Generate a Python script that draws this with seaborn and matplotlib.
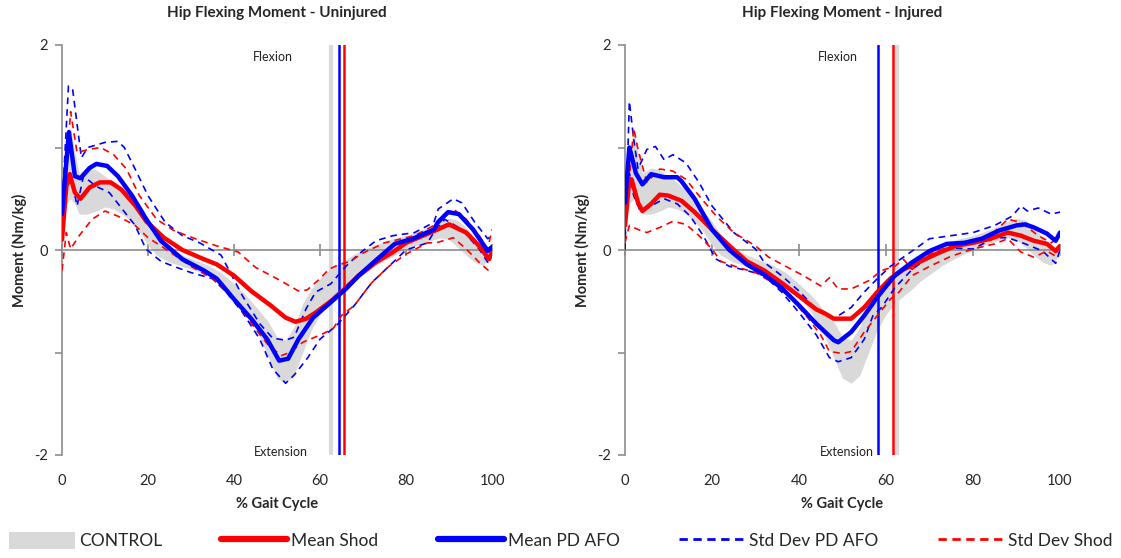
import numpy as np
import pandas as pd
import matplotlib
matplotlib.use("Agg")
import matplotlib.pyplot as plt
import seaborn as sns
from matplotlib.lines import Line2D
from matplotlib.patches import Patch

sns.set_theme(style="white")
plt.rcParams['font.family'] = ['Lato', 'DejaVu Sans']

# ---------------- DATA ----------------
# Control band (same for both panels)
ctrl_x = [0, 1, 2, 3, 4, 6, 8, 10, 12, 14, 16, 18, 20, 22, 25, 28, 31, 34, 37, 40, 43, 46, 48, 50, 52,
          54, 56, 58, 60, 62, 64, 66, 68, 70, 73, 76, 80, 84, 88, 90, 92, 94, 96, 98, 100]
ctrl_hi = [0.4, 0.9, 1.2, 0.95, 0.75, 0.8, 0.78, 0.72, 0.66, 0.58, 0.48, 0.38, 0.28, 0.15, 0.03, -0.05,
           -0.1, -0.15, -0.22, -0.33, -0.45, -0.6, -0.7, -0.85, -0.88, -0.75, -0.52, -0.38, -0.28, -0.2,
           -0.14, -0.09, -0.04, 0.0, 0.05, 0.1, 0.14, 0.2, 0.28, 0.31, 0.29, 0.22, 0.12, 0.02, 0.0]
ctrl_lo = [0.2, 0.45, 0.5, 0.45, 0.35, 0.35, 0.38, 0.42, 0.4, 0.35, 0.28, 0.18, 0.05, -0.05, -0.12, -0.16,
           -0.2, -0.25, -0.33, -0.45, -0.62, -0.85, -1.05, -1.25, -1.3, -1.22, -1.0, -0.78, -0.63, -0.52,
           -0.45, -0.38, -0.3, -0.24, -0.15, -0.08, 0.0, 0.07, 0.12, 0.1, 0.03, -0.05, -0.12, -0.15, -0.05]

# Uninjured panel
u_blue_x = [0, 1.6, 3, 4.3, 6.4, 8, 10.5, 13, 16.3, 19.6, 23, 28, 33, 36, 40, 44, 47.7, 50.5, 52.6, 55,
            58.4, 62.5, 66, 69, 73, 77.4, 81.6, 86.5, 87.4, 89.8, 92.3, 95.6, 99, 100]
u_blue_y = [0.35, 1.15, 0.72, 0.70, 0.80, 0.84, 0.82, 0.72, 0.53, 0.30, 0.09, -0.09, -0.2, -0.28, -0.48,
            -0.67, -0.87, -1.08, -1.06, -0.87, -0.66, -0.51, -0.38, -0.25, -0.10, 0.06, 0.11, 0.2, 0.27,
            0.37, 0.35, 0.2, -0.01, 0.03]
u_red_x = [0, 1, 1.8, 3, 4.3, 6.4, 8.8, 11.3, 13.8, 17.1, 19.6, 23.7, 28, 33, 36, 40, 44, 48.5, 52, 54.3,
           56.8, 59, 62.5, 66, 69, 73, 77, 80, 85.7, 90, 94, 97, 99.3, 100]
u_red_y = [0.1, 0.62, 0.74, 0.56, 0.5, 0.61, 0.66, 0.66, 0.59, 0.43, 0.28, 0.12, 0.0, -0.09, -0.14, -0.25,
           -0.40, -0.54, -0.66, -0.70, -0.67, -0.61, -0.5, -0.37, -0.25, -0.12, -0.02, 0.07, 0.17, 0.25,
           0.17, 0.04, -0.09, -0.02]
u_bsd_hi_x = [0, 1.5, 2.5, 4.5, 6, 10, 13, 14.5, 17, 20, 24, 28, 32, 37, 42, 46, 49, 52, 54, 56.8, 59,
              62.5, 66, 69, 73, 77, 82, 86.5, 87.5, 91, 93, 96, 99, 100]
u_bsd_hi_y = [0.4, 1.6, 1.56, 0.9, 1.0, 1.05, 1.06, 1.0, 0.79, 0.53, 0.27, 0.14, 0.07, -0.05, -0.45, -0.72,
              -0.86, -0.88, -0.85, -0.57, -0.41, -0.33, -0.16, -0.04, 0.09, 0.14, 0.17, 0.27, 0.4, 0.5,
              0.46, 0.27, 0.11, 0.14]
u_bsd_lo_x = [0, 2, 3.5, 5, 8, 11, 14, 17, 19.5, 23, 26, 30, 35, 38, 42, 46, 49, 52, 54, 57, 60, 64, 68,
              72, 76, 80, 85, 86, 89, 93, 97, 99, 100]
u_bsd_lo_y = [0.3, 0.75, 0.43, 0.72, 0.62, 0.56, 0.4, 0.24, 0.01, -0.11, -0.16, -0.22, -0.28, -0.40, -0.61,
              -0.87, -1.16, -1.30, -1.22, -1.06, -0.87, -0.73, -0.54, -0.32, -0.16, 0.0, 0.07, 0.14, 0.3,
              0.2, 0.01, -0.12, -0.05]
u_rsd_hi_x = [0, 2, 3.5, 6, 9, 12, 15, 18, 22, 26, 31, 36, 41, 45, 50, 55, 57, 60, 62, 64, 67, 70, 75,
              82, 87, 91, 94, 97, 99, 100]
u_rsd_hi_y = [0.2, 1.35, 0.95, 0.98, 1.0, 0.93, 0.79, 0.53, 0.30, 0.19, 0.11, 0.04, -0.02, -0.17, -0.28,
              -0.40, -0.39, -0.28, -0.19, -0.15, -0.11, -0.03, 0.07, 0.14, 0.25, 0.4, 0.3, 0.14, 0.01, 0.2]
u_rsd_lo_x = [0, 1, 2, 4, 7, 10, 13, 17, 20, 23, 30, 35, 40, 45, 48, 51, 53, 56, 60, 63, 65, 68, 72, 76,
              80, 85, 87, 91, 94, 97, 100]
u_rsd_lo_y = [-0.2, 0.17, 0.01, 0.14, 0.3, 0.38, 0.33, 0.24, 0.12, 0.04, -0.16, -0.28, -0.48, -0.77, -0.93,
              -1.03, -1.0, -0.9, -0.83, -0.77, -0.64, -0.54, -0.32, -0.16, -0.04, 0.07, 0.07, 0.12, 0.01,
              -0.12, -0.23]

# Injured panel
i_blue_x = [0, 1, 1.5, 2.5, 4, 6, 9, 12, 13, 16, 20, 24, 28, 32, 36, 40, 44, 48, 49, 52, 55, 58, 62, 66,
            70, 74, 78, 82, 86, 90, 92, 94, 97, 99, 100]
i_blue_y = [0.46, 1.0, 0.92, 0.75, 0.64, 0.74, 0.71, 0.71, 0.67, 0.5, 0.2, 0.0, -0.14, -0.24, -0.37, -0.54,
            -0.72, -0.88, -0.9, -0.8, -0.64, -0.46, -0.25, -0.12, -0.01, 0.06, 0.07, 0.11, 0.19, 0.24,
            0.25, 0.22, 0.16, 0.09, 0.17]
i_red_x = [0, 1, 1.5, 3, 4, 6, 8, 10, 13, 16, 20, 24, 28, 32, 36, 40, 44, 46, 48, 52, 55, 58, 61, 64, 68,
           72, 76, 80, 84, 88, 91, 94, 97, 99, 100]
i_red_y = [0.24, 0.69, 0.69, 0.46, 0.38, 0.45, 0.54, 0.53, 0.48, 0.37, 0.2, 0.04, -0.11, -0.2, -0.32,
           -0.45, -0.58, -0.62, -0.67, -0.67, -0.56, -0.41, -0.28, -0.19, -0.11, -0.03, 0.04, 0.07, 0.11,
           0.17, 0.14, 0.09, 0.06, -0.01, 0.04]
i_bsd_hi_x = [0, 1, 2, 3, 5, 7, 9, 11, 14, 17, 20, 25, 30, 32, 36, 40, 44, 48, 52, 55, 58, 61, 65, 70,
              75, 80, 85, 89, 91, 92.5, 95, 98, 100]
i_bsd_hi_y = [0.0, 1.45, 1.08, 0.79, 0.98, 1.01, 0.88, 0.93, 0.85, 0.66, 0.43, 0.17, 0.01, -0.12, -0.25,
              -0.40, -0.58, -0.67, -0.56, -0.41, -0.28, -0.16, -0.04, 0.11, 0.14, 0.17, 0.24, 0.33, 0.43,
              0.38, 0.41, 0.35, 0.37]
i_bsd_lo_x = [0, 1, 2, 3.5, 6, 9, 12, 15, 18, 20, 21, 24, 28, 32, 36, 40, 44, 47, 49, 52, 55, 57, 59, 62,
              66, 70, 75, 80, 85, 88, 92, 96, 99, 100]
i_bsd_lo_y = [0.15, 0.75, 0.53, 0.38, 0.43, 0.5, 0.45, 0.33, 0.14, -0.02, -0.09, -0.16, -0.2, -0.25, -0.41,
              -0.61, -0.83, -1.05, -1.09, -1.05, -0.87, -0.64, -0.56, -0.37, -0.19, -0.06, 0.02, 0.01,
              0.12, 0.12, 0.06, -0.01, -0.13, 0.0]
i_rsd_hi_x = [0, 2, 3, 5, 8, 11, 14, 17, 21, 25, 30, 33, 37, 41, 45, 47, 49, 52, 56, 59, 62, 64, 66, 70,
              75, 80, 84, 88, 91, 95, 98, 100]
i_rsd_hi_y = [0.2, 1.19, 0.98, 0.66, 0.79, 0.77, 0.69, 0.53, 0.33, 0.17, 0.04, -0.07, -0.16, -0.25, -0.35,
              -0.27, -0.38, -0.38, -0.3, -0.2, -0.16, -0.09, -0.19, -0.04, 0.04, 0.06, 0.14, 0.3, 0.27,
              0.14, 0.07, 0.14]
i_rsd_lo_x = [0, 1, 3, 5, 8, 11, 14, 17, 20, 22, 26, 30, 34, 38, 42, 45, 47, 50, 52, 55, 58, 61, 63, 66,
              70, 75, 80, 85, 88, 91, 94, 97, 99, 100]
i_rsd_lo_y = [0.07, 0.24, 0.2, 0.17, 0.22, 0.28, 0.25, 0.14, 0.01, -0.11, -0.17, -0.22, -0.32, -0.46,
              -0.66, -0.83, -0.99, -1.01, -0.99, -0.8, -0.64, -0.48, -0.41, -0.25, -0.16, -0.06, 0.01,
              0.06, 0.11, -0.02, -0.07, -0.01, -0.06, 0.07]

titles = ["Hip Flexing Moment - Uninjured", "Hip Flexing Moment - Injured"]
toe_off = [{"ctrl": 62.5, "afo": 64.5, "shod": 65.5}, {"ctrl": 62.5, "afo": 58.2, "shod": 61.7}]
legend_labels = ["CONTROL", "Mean Shod", "Mean PD AFO", "Std Dev PD AFO", "Std Dev Shod"]
x_ticks = [0, 20, 40, 60, 80, 100]
y_ticks = [-2, 0, 2]

RED = "#FF0000"
BLUE = "#0000FF"
GRAY = "#D9D9D9"
AXC = "#8C8C8C"

panels = [
    dict(blue=(u_blue_x, u_blue_y), red=(u_red_x, u_red_y), bhi=(u_bsd_hi_x, u_bsd_hi_y),
         blo=(u_bsd_lo_x, u_bsd_lo_y), rhi=(u_rsd_hi_x, u_rsd_hi_y), rlo=(u_rsd_lo_x, u_rsd_lo_y)),
    dict(blue=(i_blue_x, i_blue_y), red=(i_red_x, i_red_y), bhi=(i_bsd_hi_x, i_bsd_hi_y),
         blo=(i_bsd_lo_x, i_bsd_lo_y), rhi=(i_rsd_hi_x, i_rsd_hi_y), rlo=(i_rsd_lo_x, i_rsd_lo_y)),
]

W, H = 1121, 558
fig = plt.figure(figsize=(W / 100, H / 100), dpi=100)
fig.patch.set_facecolor("white")
rects = [(62, 492), (625, 1060)]
ytop, ybot = 45, 455

for k, (p, (x0, x1)) in enumerate(zip(panels, rects)):
    ax = fig.add_axes([x0 / W, (H - ybot) / H, (x1 - x0) / W, (ybot - ytop) / H])
    ax.set_facecolor("white")
    ax.fill_between(ctrl_x, ctrl_lo, ctrl_hi, color=GRAY, lw=0, zorder=1)
    to = toe_off[k]
    ax.axvline(to["ctrl"], color=GRAY, lw=3, zorder=1)
    ax.axvline(to["afo"], color=BLUE, lw=1.8, zorder=3)
    ax.axvline(to["shod"], color=RED, lw=1.8, zorder=3)

    for key, col in [("bhi", BLUE), ("blo", BLUE), ("rhi", RED), ("rlo", RED)]:
        xs, ys = p[key]
        sns.lineplot(x=xs, y=ys, ax=ax, color=col, lw=1.2, linestyle=(0, (4, 3)), zorder=4,
                     estimator=None, sort=False)
    sns.lineplot(x=p["red"][0], y=p["red"][1], ax=ax, color=RED, lw=3.2, zorder=5,
                 estimator=None, sort=False)
    sns.lineplot(x=p["blue"][0], y=p["blue"][1], ax=ax, color=BLUE, lw=3.2, zorder=6,
                 estimator=None, sort=False)

    ax.set_xlim(0, 100)
    ax.set_ylim(-2, 2)
    for s in ["top", "right"]:
        ax.spines[s].set_visible(False)
    ax.spines["left"].set_color(AXC)
    ax.spines["left"].set_linewidth(1.2)
    ax.spines["bottom"].set_position(("data", 0))
    ax.spines["bottom"].set_color(AXC)
    ax.spines["bottom"].set_linewidth(1.2)
    ax.spines["bottom"].set_zorder(2)
    ax.set_xticks(x_ticks)
    ax.tick_params(axis="x", direction="inout", length=8, color=AXC, width=1.2, labelbottom=False,
                   bottom=True)
    ax.set_yticks(y_ticks)
    ax.set_yticks([-1, 1], minor=True)
    ax.tick_params(axis="y", which="both", direction="out", length=5, color=AXC, width=1.2,
                   labelsize=10.5, pad=5, left=True)
    ax.set_yticklabels([str(v) for v in y_ticks])

    sec = ax.secondary_xaxis(0)
    sec.set_xticks(x_ticks)
    sec.tick_params(length=0, labelsize=10.5, pad=14)
    sec.spines["bottom"].set_visible(False)
    sec.set_xlabel("% Gait Cycle", fontsize=10.5, fontweight="bold", labelpad=6)

    ax.set_ylabel("Moment (Nm/kg)", fontsize=10.5, fontweight="bold", labelpad=5)
    ax.set_xlabel("")
    ax.set_title(titles[k], fontsize=11, fontweight="bold", pad=20)
    ax.text(49, 1.88, "Flexion", fontsize=9, ha="center", va="center", color="#222222")
    ax.text(51, -1.97, "Extension", fontsize=9, ha="center", va="center", color="#222222")

handles = [
    Patch(facecolor=GRAY, edgecolor="none"),
    Line2D([], [], color=RED, lw=4.5),
    Line2D([], [], color=BLUE, lw=4.5),
    Line2D([], [], color=BLUE, lw=2, linestyle=(0, (3, 2))),
    Line2D([], [], color=RED, lw=2, linestyle=(0, (3, 2))),
]
fig.legend(handles, legend_labels, loc="lower left", bbox_to_anchor=(0.0, 0.0, 1.0, 0.055),
           mode="expand", ncol=5, frameon=False, fontsize=12.5, handlelength=3.8, handleheight=1.1,
           handletextpad=0.25, borderaxespad=0.1)

fig.savefig("out.png", dpi=100, facecolor="white")
